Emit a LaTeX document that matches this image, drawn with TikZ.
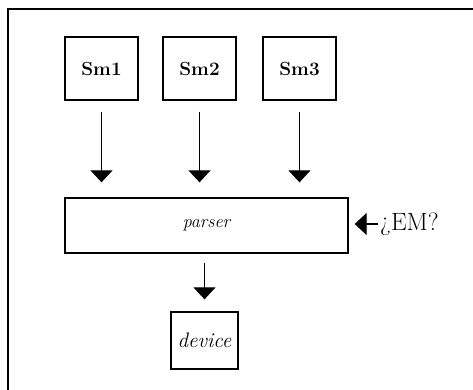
\documentclass[tikz,border=0pt]{standalone}
\usepackage{fontspec}
\usepackage{tikz}
\usetikzlibrary{arrows.meta}

\begin{document}
\begin{tikzpicture}[x=1pt,y=-1pt,
  smbox/.style={draw,line width=1.3pt,inner sep=0pt,minimum width=73pt,minimum height=63pt,
    font=\fontsize{19}{22}\selectfont\bfseries},
  flow/.style={line width=1.2pt,-{Triangle[width=22pt,length=12pt]}}]
\useasboundingbox (0,0) rectangle (473,390);
\draw [line width=2pt] (473,9) -- (8,9) -- (8,390);
\node [smbox] (sm1) at (101.5,68.5) {Sm1};
\node [smbox] (sm2) at (199.5,68.5) {Sm2};
\node [smbox] (sm3) at (299.5,68.5) {Sm3};
\node [draw,line width=1.3pt,inner sep=0pt,minimum width=283pt,minimum height=55pt,
  font=\fontsize{18}{21}\selectfont\itshape] (parser) at (206.5,225.5) {parser};
\node [draw,line width=1.3pt,inner sep=0pt,minimum width=67pt,minimum height=57pt,
  font=\fontsize{21}{24}\selectfont\itshape] (device) at (204.5,340.5) {device};
\node [anchor=west,inner sep=0pt,font=\fontsize{25}{28}\selectfont] (em) at (380,224) {¿EM?};
\draw [flow,shorten <=11pt,shorten >=15pt] (sm1.south) -- (sm1.south |- parser.north);
\draw [flow,shorten <=11pt,shorten >=15pt] (sm2.south) -- (sm2.south |- parser.north);
\draw [flow,shorten <=11pt,shorten >=15pt] (sm3.south) -- (sm3.south |- parser.north);
\draw [flow,shorten <=9pt,shorten >=12pt] (device.north |- parser.south) -- (device.north);
\draw [flow,shorten <=2pt,shorten >=6pt] (em.west) -- (em.west -| parser.east);
\end{tikzpicture}
\end{document}
